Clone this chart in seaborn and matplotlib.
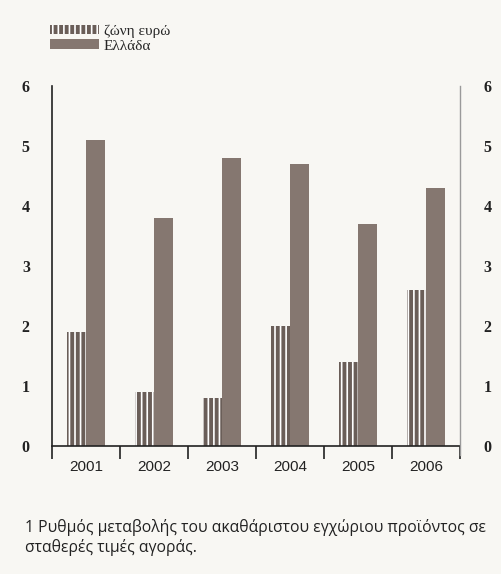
import matplotlib
matplotlib.use("Agg")
import matplotlib.pyplot as plt
import seaborn as sns
import pandas as pd
import numpy as np
from matplotlib.patches import Patch

years = ["2001", "2002", "2003", "2004", "2005", "2006"]
euro_area = [1.9, 0.9, 0.8, 2.0, 1.4, 2.6]
greece = [5.1, 3.8, 4.8, 4.7, 3.7, 4.3]
series_names = ["ζώνη ευρώ", "Ελλάδα"]
y_ticks = [0, 1, 2, 3, 4, 5, 6]
footnote = ["1 Ρυθμός μεταβολής του ακαθάριστου εγχώριου προϊόντος σε",
            "σταθερές τιμές αγοράς."]

df = pd.DataFrame({
    "year": years * 2,
    "value": euro_area + greece,
    "series": [series_names[0]] * len(years) + [series_names[1]] * len(years),
})

sns.set_style("white")
plt.rcParams["font.family"] = ["Liberation Serif", "DejaVu Serif"]
plt.rcParams["hatch.linewidth"] = 1.2

bg = "#f8f7f3"
bar_col = "#857770"
euro_col = "#6a5e58"

fig = plt.figure(figsize=(5.01, 5.74), dpi=100, facecolor=bg)
ax = fig.add_axes([52 / 501, 1 - 446 / 574, (460 - 52) / 501, (446 - 86) / 574])
ax.set_facecolor(bg)

sns.barplot(data=df, x="year", y="value", hue="series", order=years,
            hue_order=series_names, palette=[euro_col, bar_col],
            width=0.56, gap=0, ax=ax, legend=False, saturation=1)

n = len(years)
for i, p in enumerate(ax.patches):
    if i < n:
        p.set_hatch("|||")
        p.set_edgecolor("white")
        p.set_linewidth(0)
    else:
        p.set_linewidth(0)

ax.set_ylim(0, 6)
ax.set_xlim(-0.5, n - 0.5)
ax.set_yticks(y_ticks)
ax.set_yticklabels([str(t) for t in y_ticks], fontsize=11.5, fontweight="bold",
                   color="#222222")
ax.tick_params(axis="y", length=0, pad=16)
ax.set_xlabel("")
ax.set_ylabel("")

ax.set_xticks(range(n))
ax.set_xticklabels(years, fontsize=11, family=["Liberation Sans", "DejaVu Sans"],
                   color="#222222")
ax.tick_params(axis="x", which="major", length=0, pad=10)
ax.set_xticks(np.arange(-0.5, n, 1.0), minor=True)
ax.tick_params(axis="x", which="minor", bottom=True, length=9, width=1.2,
               direction="out", color="#222222")

for s in ["left", "bottom"]:
    ax.spines[s].set_color("#222222")
    ax.spines[s].set_linewidth(1.2)
ax.spines["top"].set_visible(False)
ax.spines["right"].set_visible(False)

ax2 = ax.twinx()
ax2.set_ylim(0, 6)
ax2.set_yticks(y_ticks)
ax2.set_yticklabels([str(t) for t in y_ticks], fontsize=11.5, fontweight="bold",
                    color="#222222")
ax2.tick_params(axis="y", length=0, pad=17)
for s in ["left", "bottom", "top"]:
    ax2.spines[s].set_visible(False)
ax2.spines["right"].set_color("#9a9a9a")
ax2.spines["right"].set_linewidth(1.0)
ax2.spines["right"].set_bounds(-0.15, 6)

handles = [Patch(facecolor=euro_col, edgecolor="white", hatch="|||", linewidth=0),
           Patch(facecolor=bar_col, linewidth=0)]
fig.legend(handles, series_names, loc="upper left", bbox_to_anchor=(0.088, 0.968),
           frameon=False, fontsize=11, handlelength=3.2, handleheight=0.6,
           handletextpad=0.3, labelspacing=0.1, borderaxespad=0)

fig.text(25 / 501, 1 - 527 / 574, footnote[0], fontsize=11.3,
         family=["Open Sans", "DejaVu Sans"], va="center", ha="left", color="#222222")
fig.text(25 / 501, 1 - 548 / 574, footnote[1], fontsize=11.3,
         family=["Open Sans", "DejaVu Sans"], va="center", ha="left", color="#222222")

fig.savefig("out.png", dpi=100, facecolor=bg)
